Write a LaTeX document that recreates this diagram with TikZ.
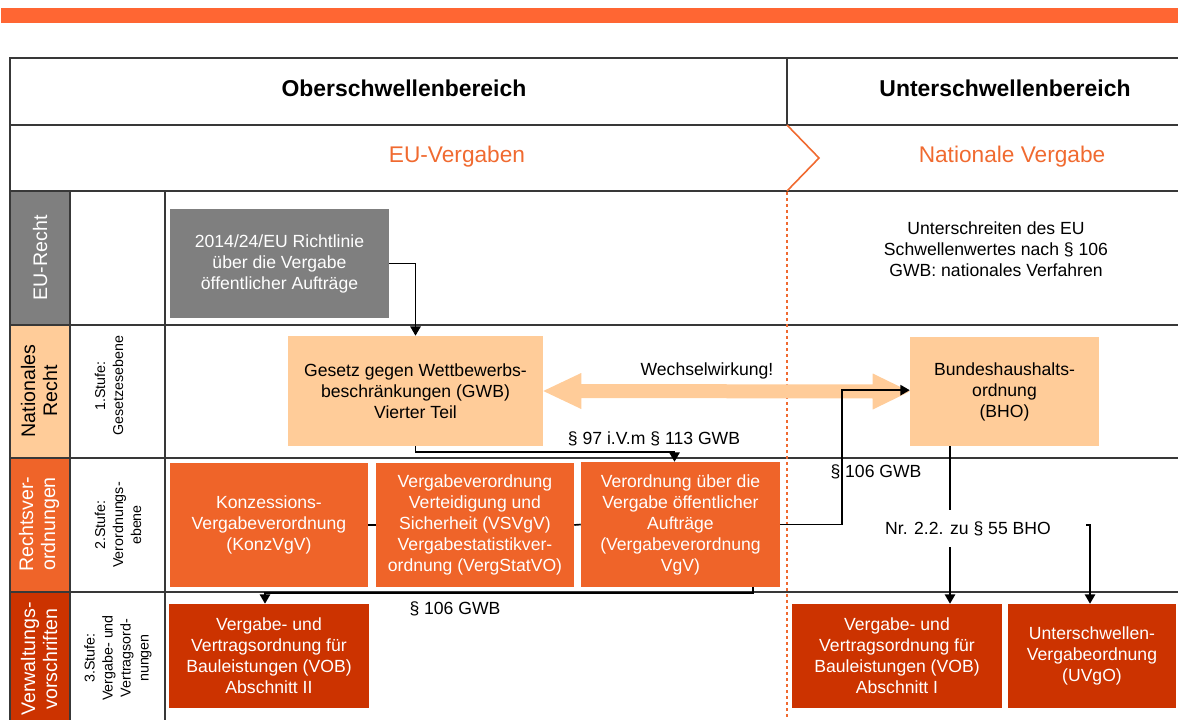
\documentclass[tikz,border=0pt]{standalone}
\usepackage{fontspec}
\setmainfont{Liberation Sans}
\usetikzlibrary{arrows.meta,calc}
\definecolor{topbar}{HTML}{FF6633}
\definecolor{orangetxt}{HTML}{F06A30}
\definecolor{grayc}{HTML}{7F7F7F}
\definecolor{lightor}{HTML}{FFCC99}
\definecolor{midor}{HTML}{EF6429}
\definecolor{darkor}{HTML}{CC3300}
\begin{document}
\begin{tikzpicture}[x=0.75pt,y=-0.75pt,
  tline/.style={draw=black!78,line width=0.8pt},
  body/.style={font=\fontsize{13.2}{15.75}\selectfont, align=center},
  box/.style={body, inner sep=0pt, anchor=center},
  conn/.style={draw=black, line width=1.25pt},
  arr/.style={conn, -{Triangle[length=7pt,width=7.75pt]}},
  lefttxt/.style={font=\fontsize{14.7}{16.5}\selectfont, align=center, rotate=90},
  stufetxt/.style={font=\fontsize{10.7}{13.5}\selectfont, align=center, rotate=90},
  hdr/.style={font=\fontsize{17.2}{20}\selectfont\bfseries},
  ohdr/.style={font=\fontsize{17}{20}\selectfont, text=orangetxt},
]
\useasboundingbox (0,0) rectangle (1178,720);
% top bar
\fill[topbar] (1,8) rectangle (1178,23);

% coloured cells in first column
\fill[grayc] (10,191) rectangle (70,325);
\fill[lightor] (10,325) rectangle (70,458);
\fill[midor] (10,458) rectangle (70,592);
\fill[darkor] (10,592) rectangle (70,720);

% table lines
\draw[tline] (10,720) -- (10,58) -- (1178,58);
\draw[tline] (10,125) -- (1178,125);
\draw[tline] (10,191) -- (1178,191);
\draw[tline] (10,325) -- (1178,325);
\draw[tline] (10,458) -- (1178,458);
\draw[tline] (10,592) -- (1178,592);
\draw[tline] (787,58) -- (787,125);
\draw[tline] (70,191) -- (70,720);
\draw[tline] (165,191) -- (165,720);

% chevron and dotted border
\draw[orangetxt, line width=1.2pt] (787,125) -- (819,158) -- (787,191);
\draw[orangetxt, line width=1.7pt, dash pattern=on 2.25pt off 2.25pt] (787,192) -- (787,720);

% headers
\node[hdr] (hO) at (404,88) {Oberschwellenbereich};
\node[hdr] (hU) at (1005,88) {Unterschwellenbereich};
\node[ohdr] (hEU) at (457,157) {EU-Vergaben};
\node[ohdr] (hNat) at (1012,157) {Nationale Vergabe};

% first column labels
\node[lefttxt, text=white] (lEU) at (40,258) {EU-Recht};
\node[lefttxt, text=black] (lNat) at (39,391) {Nationales\\Recht};
\node[lefttxt, text=white] (lRV) at (39,524) {Rechtsver-\\ordnungen};
\node[lefttxt, text=white] (lVV) at (39,659) {Verwaltungs-\\vorschriften};

% second column labels
\node[stufetxt] (s1) at (109,386) {1.Stufe:\\Gesetzesebene};
\node[stufetxt] (s2) at (118,525) {2.Stufe:\\Verordnungs-\\ebene};
\node[stufetxt] (s3) at (118,658) {3.Stufe:\\Vergabe- und\\Vertragsord-\\nungen};

% note text
\node[body] (note) at (996,249) {Unterschreiten des EU\\Schwellenwertes nach § 106\\GWB: nationales Verfahren};

% boxes
\node[box, fill=grayc, text=white, minimum width=164.25pt, minimum height=81.75pt] (eu) at (279.5,263.5) {2014/24/EU Richtlinie\\über die Vergabe\\öffentlicher Aufträge};
\node[box, fill=lightor, text=black, minimum width=191.25pt, minimum height=82.5pt] (gwb) at (415.5,391) {Gesetz gegen Wettbewerbs-\\beschränkungen (GWB)\\Vierter Teil};
\node[box, fill=lightor, text=black, minimum width=141.75pt, minimum height=81.75pt] (bho) at (1004.5,391.5) {Bundeshaushalts-\\ordnung\\(BHO)};
\node[box, fill=midor, text=white, minimum width=148.5pt, minimum height=93pt] (konz) at (269,525) {Konzessions-\\Vergabeverordnung\\(KonzVgV)};
\node[box, fill=midor, text=white, minimum width=148.5pt, minimum height=93pt] (vsvgv) at (475,525) {Vergabeverordnung\\Verteidigung und\\Sicherheit (VSVgV)\\Vergabestatistikver-\\ordnung (VergStatVO)};
\node[box, fill=midor, text=white, minimum width=149.25pt, minimum height=93.75pt] (vgv) at (680.5,524.5) {Verordnung über die\\Vergabe öffentlicher\\Aufträge\\(Vergabeverordnung\\VgV)};
\node[box, fill=darkor, text=white, minimum width=150pt, minimum height=78pt] (vob2) at (269,656) {Vergabe- und\\Vertragsordnung für\\Bauleistungen (VOB)\\Abschnitt II};
\node[box, fill=darkor, text=white, minimum width=157.5pt, minimum height=78pt] (vob1) at (897,656) {Vergabe- und\\Vertragsordnung für\\Bauleistungen (VOB)\\Abschnitt I};
\node[box, fill=darkor, text=white, minimum width=126pt, minimum height=78pt] (uvgo) at (1092,656) {Unterschwellen-\\Vergabeordnung\\(UVgO)};

% double arrow Wechselwirkung
\fill[lightor] (gwb.east) -- ($(gwb.east)+(38,-18)$) -- ($(gwb.east)+(38,-7)$)
  -- ($(bho.west)+(-37,-7)$) -- ($(bho.west)+(-37,-18)$) -- (bho.west)
  -- ($(bho.west)+(-37,18)$) -- ($(bho.west)+(-37,7)$)
  -- ($(gwb.east)+(38,7)$) -- ($(gwb.east)+(38,18)$) -- cycle;
\node[body] (ww) at (707,371) {Wechselwirkung!};

% labels
\node[body] (p97) at (654,439) {§ 97 i.V.m § 113 GWB};
\node[body] (p106a) at (876,472) {§ 106 GWB};
\node[body] (p106b) at (455,609) {§ 106 GWB};
\node[body, minimum height=27.75pt, inner sep=0pt] (lab) at (968,528.5) {Nr. 2.2. zu § 55 BHO};

% connectors
\draw[arr] (eu.east) -| (gwb.north);
\draw[arr] (gwb.south) -- ++(0,6) -| ([xshift=-4.5pt]vgv.north);
\draw[conn] (konz.east) -- (vsvgv.west);
\draw[conn] (vsvgv.east) -- (vgv.west);
\draw[arr] (vgv.east) -- ++(62,0) |- ([yshift=1pt]bho.west);
\draw[arr] ([xshift=-20.25pt]vgv.south east) -- ++(0,6) -| ([xshift=-3pt]vob2.north);
\coordinate (xb) at (950,0);
\draw[conn] (bho.south -| xb) -- (lab.north -| xb);
\draw[arr] (lab.south -| xb) -- (vob1.north -| xb);
\coordinate (st) at (1086,525);
\draw[arr] (st) -| ([xshift=-1.5pt]uvgo.north);
\end{tikzpicture}
\end{document}
